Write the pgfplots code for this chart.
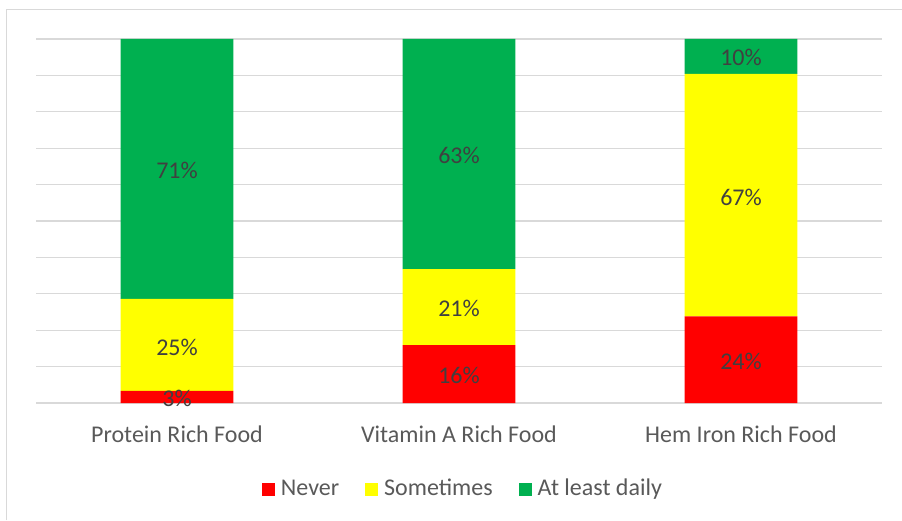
\documentclass[border=0pt]{standalone}
\usepackage{pgfplots}
\pgfplotsset{compat=1.18}
\usepackage{pgfplotstable}
\usepackage{fontspec}
\setmainfont{Carlito}
\definecolor{cRed}{HTML}{FF0000}
\definecolor{cYel}{HTML}{FFFF00}
\definecolor{cGrn}{HTML}{00B050}
\definecolor{cGrid}{HTML}{D9D9D9}
\definecolor{cTxt}{HTML}{595959}
\definecolor{cLbl}{HTML}{404040}
% labels: x, position inside segment, text
\pgfplotstableread{
x y label
0 1.2 3\%
0 15.4 25\%
0 63.9 71\%
1 7.5 16\%
1 26.0 21\%
1 68.0 63\%
2 11.4 24\%
2 56.6 67\%
2 94.9 10\%
}\labeltab
\begin{document}
\begin{tikzpicture}
\useasboundingbox (0pt,0pt) rectangle (902pt,520pt);
\draw[cGrid, line width=1.3pt] (6.5pt,0pt) -- (6.5pt,510.5pt) -- (902pt,510.5pt);
\begin{axis}[
  at={(36pt,117pt)}, anchor=south west,
  scale only axis, width=846pt, height=364pt,
  ybar stacked, bar width=0.4,
  xmin=-0.5, xmax=2.5, ymin=0, ymax=100,
  xtick=data, xticklabels={Protein Rich Food, Vitamin A Rich Food, Hem Iron Rich Food},
  ytick={0,10,...,100}, yticklabels={},
  ymajorgrids, grid style={cGrid, line width=1.3pt},
  axis line style={draw=none},
  major tick length=0pt,
  axis x line*=bottom,
  x axis line style={cGrid, line width=1.3pt},
  tick label style={font=\fontsize{24}{26}\selectfont, text=cTxt},
  xticklabel style={yshift=-19pt},
  legend style={at={(0.5047,-0.2390)}, anchor=center, draw=none, legend columns=3,
     font=\fontsize{24}{26}\selectfont, text=cTxt,
     nodes={text height=16pt, text depth=5pt},
     /tikz/every odd column/.append style={column sep=4pt},
     /tikz/every even column/.append style={column sep=24pt}},
  legend image code/.code={\fill[#1,draw=none] (0pt,-6.5pt) rectangle (13pt,6.5pt);},
]
\addplot[fill=cRed, draw=none] coordinates {(0,3.3) (1,15.9) (2,23.8)};
\addplot[fill=cYel, draw=none] coordinates {(0,25.3) (1,20.9) (2,66.6)};
\addplot[fill=cGrn, draw=none] coordinates {(0,71.4) (1,63.2) (2,9.6)};
\legend{Never, Sometimes, At least daily}
\end{axis}
\begin{axis}[
  at={(36pt,117pt)}, anchor=south west,
  scale only axis, width=846pt, height=364pt,
  xmin=-0.5, xmax=2.5, ymin=0, ymax=100,
  hide axis, clip=false,
]
\addplot[draw=none, mark=none, nodes near coords, point meta=explicit symbolic,
  every node near coord/.append style={anchor=center, font=\fontsize{24}{26}\selectfont, text=cLbl}]
  table[x=x, y=y, meta=label] {\labeltab};
\end{axis}
\end{tikzpicture}
\end{document}
